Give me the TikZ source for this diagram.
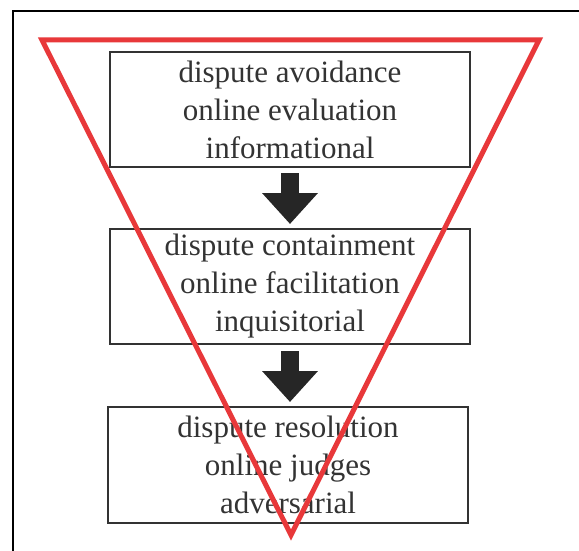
\documentclass[tikz,border=0pt]{standalone}
\usepackage{fontspec}
\setmainfont{Liberation Serif}
\usetikzlibrary{arrows.meta}
\definecolor{tri}{HTML}{E8383A}
\definecolor{ink}{HTML}{333333}
\tikzset{
  stage/.style={draw=ink, line width=2pt, text=ink, align=center, inner sep=0pt,
    font=\fontsize{31}{38}\selectfont},
  flow/.style={draw=black!85, line width=18pt, -{Triangle[width=54pt,length=31pt]}, black!85},
  funnel/.style={draw=tri, line width=5pt, line join=miter}
}
\begin{document}
\begin{tikzpicture}[x=1pt,y=-1pt]
\useasboundingbox (0,0) rectangle (579,551);
\begin{scope}
\clip (0,0) rectangle (579,551);
\draw[line width=1.5pt] (13,11) rectangle (590,560);
\end{scope}
\node[stage, minimum width=360pt, minimum height=115pt] (b1) at (290,109.5)
  {dispute avoidance\\online evaluation\\informational};
\node[stage, minimum width=360pt, minimum height=115pt] (b2) at (290,286.5)
  {dispute containment\\online facilitation\\inquisitorial};
\node[stage, minimum width=360pt, minimum height=116pt] (b3) at (288,465)
  {dispute resolution\\online judges\\adversarial};
\draw[flow, shorten <=5pt, shorten >=4pt] (b1.south) -- (b2.north);
\draw[flow, shorten <=6pt, shorten >=4pt] (b2.south) -- (b2.south |- b3.north);
\coordinate (t1) at (42,40);
\coordinate (t2) at (539,40);
\coordinate (t3) at (291,535);
\draw[funnel] (t1) -- (t2) -- (t3) -- cycle;
\end{tikzpicture}
\end{document}
